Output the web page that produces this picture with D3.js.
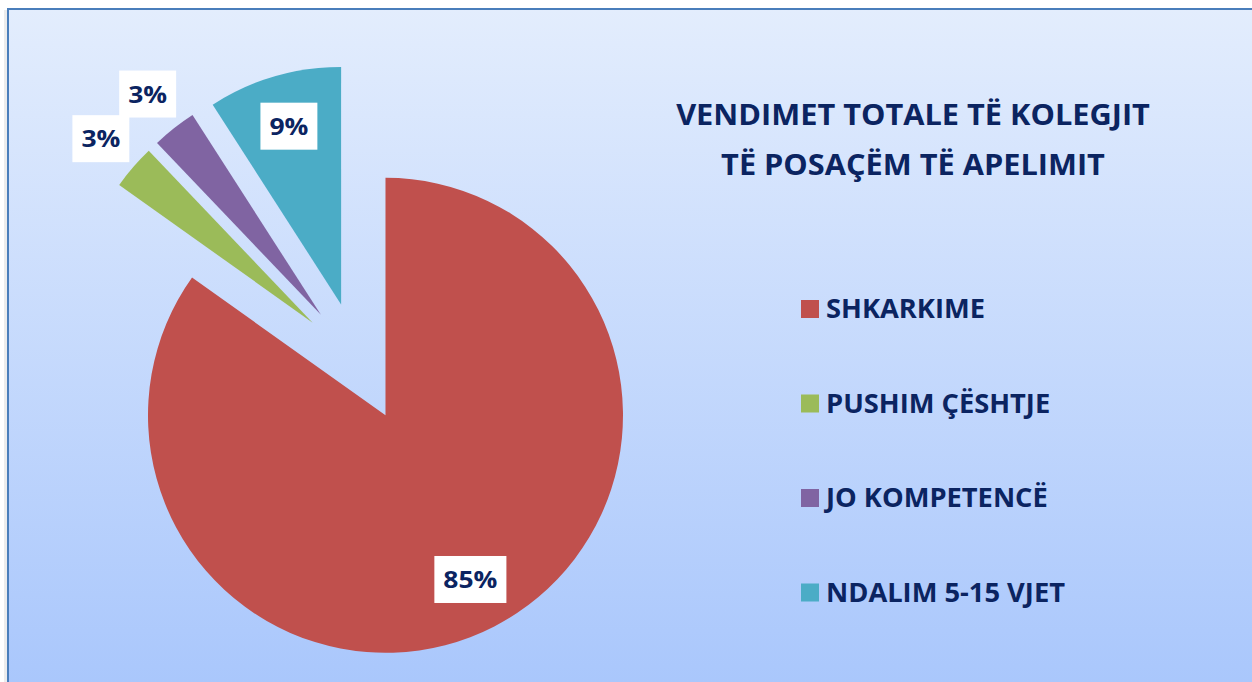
<!doctype html>
<html>
<head>
  <meta charset="utf-8">
  <script src="https://d3js.org/d3.v7.min.js"></script>
</head>
<style>
  body {
    margin: 0;
    background: #fff;
  }

  svg text {
    font-family: "Open Sans", Lato, sans-serif;
    font-weight: bold;
    fill: #0b2461;
  }
</style>
<body>
<svg></svg>

<script>
  // decisions per category (shares)
  const categories = ["SHKARKIME", "PUSHIM ÇËSHTJE", "JO KOMPETENCË", "NDALIM 5-15 VJET"];
  const counts = [28, 1, 1, 3];
  const colors = ["#c0504d", "#9bbb59", "#8064a2", "#4bacc6"];
  const titleLines = ["VENDIMET TOTALE TË KOLEGJIT", "TË POSAÇËM TË APELIMIT"];

  const width = 1252, height = 682;
  const cx = 358, cy = 362, radius = 237.5, explode = 60;

  const svg = d3.select("svg")
    .attr("width", width)
    .attr("height", height);

  const defs = svg.append("defs");
  const grad = defs.append("linearGradient")
    .attr("id", "bg")
    .attr("x1", 0).attr("y1", 0).attr("x2", 0).attr("y2", 1);
  grad.append("stop").attr("offset", "0%").attr("stop-color", "#e3edfd");
  grad.append("stop").attr("offset", "100%").attr("stop-color", "#a8c6fc");

  // soft shadow + chart area
  svg.append("rect")
    .attr("x", 4).attr("y", 10)
    .attr("width", 6).attr("height", height)
    .attr("fill", "#ececec");
  svg.append("rect")
    .attr("x", 8).attr("y", 9)
    .attr("width", width + 10).attr("height", height + 10)
    .attr("fill", "url(#bg)")
    .attr("stroke", "#4a7ebb")
    .attr("stroke-width", 2);

  const total = d3.sum(counts);
  const data = categories.map((c, i) => ({name: c, value: counts[i], color: colors[i]}));

  const pie = d3.pie()
    .sort(null)
    .value(d => d.value);
  const arcs = pie(data);
  const arc = d3.arc()
    .innerRadius(0)
    .outerRadius(radius);

  const slices = svg.append("g")
    .attr("transform", `translate(${cx},${cy})`);

  function midOffset(d, r) {
    const a = (d.startAngle + d.endAngle) / 2;
    return [Math.sin(a) * r, -Math.cos(a) * r];
  }

  slices.selectAll("path")
    .data(arcs)
    .join("path")
    .attr("d", arc)
    .attr("fill", d => d.data.color)
    .attr("transform", d => {
      const [dx, dy] = midOffset(d, explode);
      return `translate(${dx},${dy})`;
    });

  // data labels in white boxes
  const labels = slices.selectAll("g.label")
    .data(arcs)
    .join("g")
    .attr("class", "label")
    .attr("transform", d => {
      const share = d.data.value / total;
      const r = explode + (share > 0.05 ? 0.78 : 1.18) * radius;
      const [x, y] = midOffset(d, r);
      return `translate(${x},${y})`;
    });

  labels.each(function (d) {
    const g = d3.select(this);
    const t = g.append("text")
      .attr("text-anchor", "middle")
      .attr("dy", "0.36em")
      .attr("font-size", 23)
      .attr("transform", "scale(1.15,1)")
      .text(Math.round(d.data.value / total * 100) + "%");
    const w = t.node().getComputedTextLength() * 1.15 + 18;
    g.insert("rect", "text")
      .attr("x", -w / 2).attr("y", -24)
      .attr("width", w).attr("height", 47)
      .attr("fill", "#fff");
  });

  // title
  svg.append("g")
    .selectAll("text")
    .data(titleLines)
    .join("text")
    .attr("text-anchor", "middle")
    .attr("font-size", 29)
    .attr("transform", (d, i) => `translate(913,${125 + i * 50}) scale(1.06,1)`)
    .text(d => d);

  // legend
  const legend = svg.append("g")
    .attr("transform", "translate(801,318)");
  const items = legend.selectAll("g")
    .data(data)
    .join("g")
    .attr("transform", (d, i) => `translate(0,${i * 94.5})`);
  items.append("rect")
    .attr("x", 0).attr("y", -18)
    .attr("width", 18).attr("height", 18)
    .attr("fill", d => d.color);
  items.append("text")
    .attr("font-size", 26)
    .attr("transform", "translate(25,0) scale(1.05,1)")
    .text(d => d.name);
</script>
</body>
</html>
